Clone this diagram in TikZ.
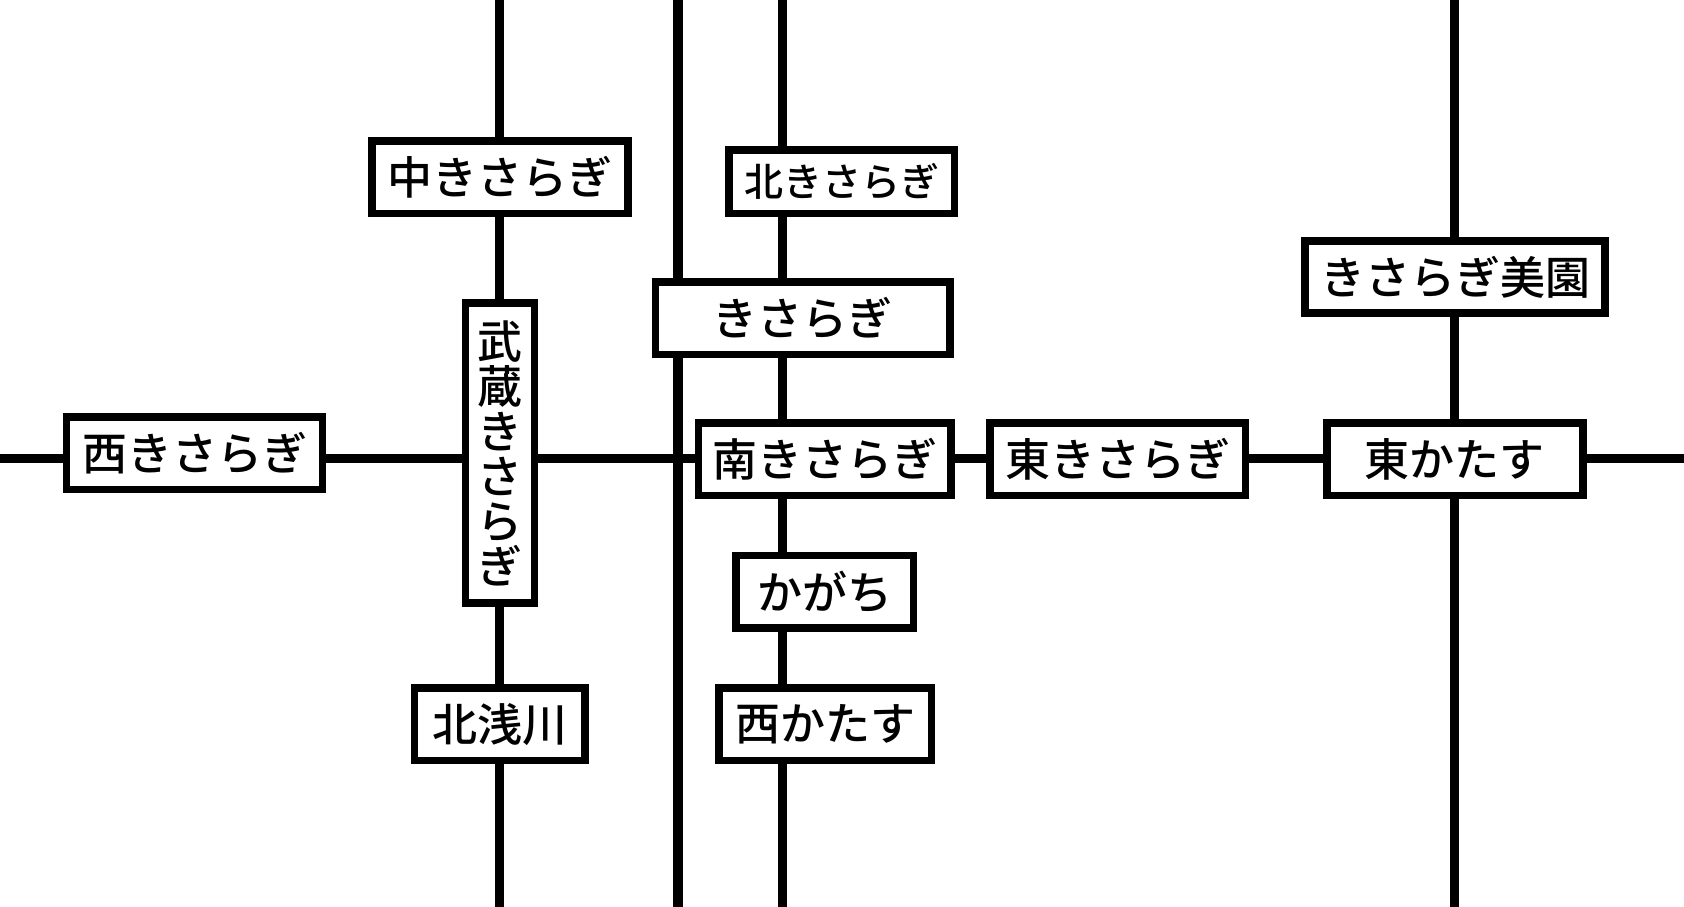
\documentclass[tikz,border=0pt]{standalone}
\usepackage{fontspec}
\newfontfamily\jp{Noto Sans CJK JP Medium}
\begin{document}
\begin{tikzpicture}[x=1pt,y=-1pt,
  track/.style={line width=9.3pt},
  stn/.style={draw,fill=white,line width=7.5pt,inner sep=0pt,
    font=\jp\fontsize{45}{45}\selectfont,align=center},
  stnsmall/.style={stn,font=\jp\fontsize{39}{39}\selectfont}]
\useasboundingbox[fill=white] (0,0) rectangle (1684,907);
% line end points
\coordinate (Atop) at (499.5,0);   \coordinate (Abot) at (499.5,907);
\coordinate (Btop) at (678,0);     \coordinate (Bbot) at (678,907);
\coordinate (Ctop) at (782.4,0);   \coordinate (Cbot) at (782.4,907);
\coordinate (Dtop) at (1454.7,0);  \coordinate (Dbot) at (1454.7,907);
\coordinate (Hl) at (0,458.7);     \coordinate (Hr) at (1684,458.7);
\draw[track] (Atop) -- (Abot);
\draw[track] (Btop) -- (Bbot);
\draw[track] (Ctop) -- (Cbot);
\draw[track] (Dtop) -- (Dbot);
\draw[track] (Hl) -- (Hr);
% stations
\node[stn,minimum width=255.7pt,minimum height=72.5pt] (naka) at (500,177.3) {中きさらぎ};
\node[stnsmall,minimum width=225.8pt,minimum height=63.8pt] (kita) at (841.7,181.7) {北きさらぎ};
\node[stn,minimum width=294.3pt,minimum height=72.5pt] (kisaragi) at (802.6,318.3) {きさらぎ};
\node[stn,minimum width=69pt,minimum height=299.9pt] (musashi) at (500,453) {武\\蔵\\き\\さ\\ら\\ぎ};
\node[stn,minimum width=256.2pt,minimum height=72.5pt] (nishi) at (194.5,453.3) {西きさらぎ};
\node[stn,minimum width=252.8pt,minimum height=72.5pt] (minami) at (824.8,459.2) {南きさらぎ};
\node[stn,minimum width=255.7pt,minimum height=72.5pt] (higashi) at (1117.6,459) {東きさらぎ};
\node[stn,minimum width=255.8pt,minimum height=72.5pt] (hkatasu) at (1454.9,459) {東かたす};
\node[stn,minimum width=300.2pt,minimum height=71.9pt] (misono) at (1455,277) {きさらぎ美園};
\node[stn,minimum width=177.5pt,minimum height=72.5pt] (kagachi) at (824.5,591.7) {かがち};
\node[stn,minimum width=170.5pt,minimum height=72.5pt] (kitaasa) at (499.7,724.3) {北浅川};
\node[stn,minimum width=212.5pt,minimum height=72.5pt] (nkatasu) at (825,724.3) {西かたす};
\end{tikzpicture}
\end{document}
